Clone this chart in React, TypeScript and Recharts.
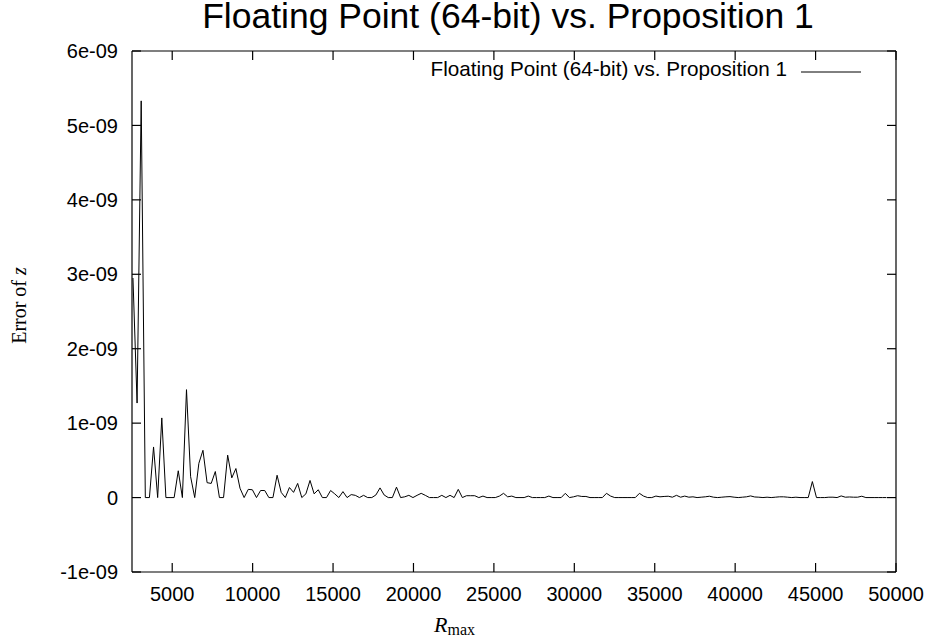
import { LineChart, Line, XAxis, YAxis, Legend, Label } from "recharts";

const seriesName = "Floating Point (64-bit) vs. Proposition 1";

// R_max sample points
const rMax = [
  2560, 2816, 3072, 3328, 3584, 3840, 4096, 4352, 4608, 4864,
  5120, 5376, 5632, 5888, 6144, 6400, 6656, 6912, 7168, 7424,
  7680, 7936, 8192, 8448, 8704, 8960, 9216, 9472, 9728, 9984,
  10240, 10496, 10752, 11008, 11264, 11520, 11776, 12032, 12288, 12544,
  12800, 13056, 13312, 13568, 13824, 14080, 14336, 14592, 14848, 15104,
  15360, 15616, 15872, 16128, 16384, 16640, 16896, 17152, 17408, 17664,
  17920, 18176, 18432, 18688, 18944, 19200, 19456, 19712, 19968, 20224,
  20480, 20736, 20992, 21248, 21504, 21760, 22016, 22272, 22528, 22784,
  23040, 23296, 23552, 23808, 24064, 24320, 24576, 24832, 25088, 25344,
  25600, 25856, 26112, 26368, 26624, 26880, 27136, 27392, 27648, 27904,
  28160, 28416, 28672, 28928, 29184, 29440, 29696, 29952, 30208, 30464,
  30720, 30976, 31232, 31488, 31744, 32000, 32256, 32512, 32768, 33024,
  33280, 33536, 33792, 34048, 34304, 34560, 34816, 35072, 35328, 35584,
  35840, 36096, 36352, 36608, 36864, 37120, 37376, 37632, 37888, 38144,
  38400, 38656, 38912, 39168, 39424, 39680, 39936, 40192, 40448, 40704,
  40960, 41216, 41472, 41728, 41984, 42240, 42496, 42752, 43008, 43264,
  43520, 43776, 44032, 44288, 44544, 44800, 45056, 45312, 45568, 45824,
  46080, 46336, 46592, 46848, 47104, 47360, 47616, 47872, 48128, 48384,
  48640, 48896, 49152, 49408,
];

// error of z, in units of 1e-09
const errorZ = [
  2.95, 1.27, 5.33, 0, 0, 0.68, 0, 1.07, 0, 0,
  0, 0.36, 0, 1.45, 0.28, 0, 0.46, 0.635, 0.2, 0.19,
  0.35, 0, 0, 0.57, 0.265, 0.39, 0.125, 0, 0.11, 0.105,
  0, 0.095, 0.095, 0, 0, 0.3, 0.07, 0, 0.135, 0.07,
  0.19, 0, 0.05, 0.23, 0.05, 0.105, 0, 0, 0.095, 0.05,
  0, 0.08, 0, 0.04, 0.03, 0, 0.03, 0, 0, 0.035,
  0.13, 0.035, 0, 0, 0.14, 0, 0.01, 0.03, 0, 0.03,
  0.057, 0.03, 0, 0, 0, 0.03, 0, 0.03, 0, 0.11,
  0, 0.025, 0.025, 0.025, 0, 0.02, 0, 0, 0, 0.02,
  0.057, 0.01, 0.02, 0, 0, 0, 0.02, 0, 0, 0,
  0, 0.02, 0, 0, 0, 0.057, 0, 0.01, 0.025, 0.015,
  0.015, 0, 0, 0, 0, 0.057, 0.02, 0, 0, 0,
  0, 0, 0, 0.057, 0.02, 0, 0, 0.02, 0.01, 0.015,
  0.018, 0.005, 0.03, 0.005, 0.02, 0.005, 0.01, 0, 0.005, 0.01,
  0.018, 0.005, 0, 0.005, 0.01, 0.013, 0.005, 0, 0.005, 0.01,
  0.022, 0.008, 0.005, 0, 0.005, 0, 0.005, 0.01, 0.01, 0.005,
  0, 0.005, 0, 0, 0, 0.215, 0, 0, 0, 0.005,
  0.005, 0, 0.022, 0.005, 0.008, 0.005, 0.005, 0.018, 0, 0,
  0, 0, 0, 0,
];

const xTicks = [5000, 10000, 15000, 20000, 25000, 30000, 35000, 40000, 45000, 50000];
const yTicks = [-1, 0, 1, 2, 3, 4, 5, 6];
const yTickLabels = ["-1e-09", "0", "1e-09", "2e-09", "3e-09", "4e-09", "5e-09", "6e-09"];

const data = rMax.map((r, i) => ({ r, err: errorZ[i] }));

const sans = '"Liberation Sans", Arial, Helvetica, sans-serif';
const serif = '"Liberation Serif", "Times New Roman", serif';
const axisStyle = { stroke: "#000", strokeWidth: 1.2 };

const renderLegend = (props: any) => {
  const item = props.payload && props.payload[0];
  return (
    <svg width={933} height={100} style={{ display: "block" }}>
      <text x={787} y={76} textAnchor="end" fontFamily={sans} fontSize={20.7} fill="#000">
        {item ? item.value : seriesName}
      </text>
      <line x1={801} x2={861} y1={72} y2={72} stroke={item ? item.color : "#000"} strokeWidth={1} />
    </svg>
  );
};

const YLabel = (props: any) => {
  const vb = props.viewBox || { x: 52, y: 51, width: 80, height: 521 };
  const x = vb.x - 26;
  const y = vb.y + vb.height / 2 - 6;
  return (
    <text x={x} y={y} transform={`rotate(-90 ${x} ${y})`} textAnchor="middle" fontFamily={serif} fontSize={20} fill="#000">
      Error of <tspan fontStyle="italic">z</tspan>
    </text>
  );
};

const XLabel = (props: any) => {
  const vb = props.viewBox || { x: 132, y: 572, width: 764, height: 40 };
  return (
    <text x={vb.x + 302} y={vb.y + 60} fontFamily={serif} fill="#000">
      <tspan fontStyle="italic" fontSize={22}>R</tspan>
      <tspan fontSize={16} dy={3}>max</tspan>
    </text>
  );
};

export default function App() {
  return (
    <div style={{ position: "absolute", left: 0, top: 0, width: 933, height: 644, background: "#fff" }}>
      <LineChart width={933} height={644} data={data} margin={{ top: 50, right: 36, bottom: 32, left: 52 }}>
        <XAxis
          xAxisId="b"
          dataKey="r"
          type="number"
          domain={[2500, 50000]}
          ticks={xTicks}
          interval={0}
          allowDataOverflow
          height={40}
          tickSize={-9}
          tickMargin={23.5}
          axisLine={axisStyle}
          tickLine={axisStyle}
          tick={{ fill: "#000", fontSize: 20, fontFamily: sans }}
        >
          <Label content={XLabel} />
        </XAxis>
        <XAxis
          xAxisId="t"
          orientation="top"
          dataKey="r"
          type="number"
          domain={[2500, 50000]}
          ticks={xTicks}
          interval={0}
          allowDataOverflow
          height={1}
          tickSize={-9}
          axisLine={axisStyle}
          tickLine={axisStyle}
          tickFormatter={() => ""}
        />
        <YAxis
          yAxisId="l"
          type="number"
          domain={[-1, 6]}
          ticks={yTicks}
          interval={0}
          allowDataOverflow
          width={80}
          tickSize={-9}
          tickMargin={23}
          axisLine={axisStyle}
          tickLine={axisStyle}
          tick={{ fill: "#000", fontSize: 20, fontFamily: sans }}
          tickFormatter={(v: number) => yTickLabels[yTicks.indexOf(v)] ?? String(v)}
        >
          <Label content={YLabel} />
        </YAxis>
        <YAxis
          yAxisId="r"
          orientation="right"
          type="number"
          domain={[-1, 6]}
          ticks={yTicks}
          interval={0}
          allowDataOverflow
          width={1}
          tickSize={-9}
          axisLine={axisStyle}
          tickLine={axisStyle}
          tickFormatter={() => ""}
        />
        <Legend
          layout="horizontal"
          verticalAlign="middle"
          align="center"
          wrapperStyle={{ position: "absolute", top: 0, left: 0, width: 933, height: 100 }}
          content={renderLegend}
        />
        <Line
          xAxisId="b"
          yAxisId="l"
          type="linear"
          dataKey="err"
          name={seriesName}
          stroke="#000"
          strokeWidth={1}
          dot={false}
          isAnimationActive={false}
        />
      </LineChart>
      <svg width={933} height={44} style={{ position: "absolute", left: 0, top: 0, pointerEvents: "none" }}>
        <text x={508} y={28} textAnchor="middle" fontFamily={sans} fontSize={35.5} fill="#000">
          Floating Point (64-bit) vs. Proposition 1
        </text>
      </svg>
    </div>
  );
}
